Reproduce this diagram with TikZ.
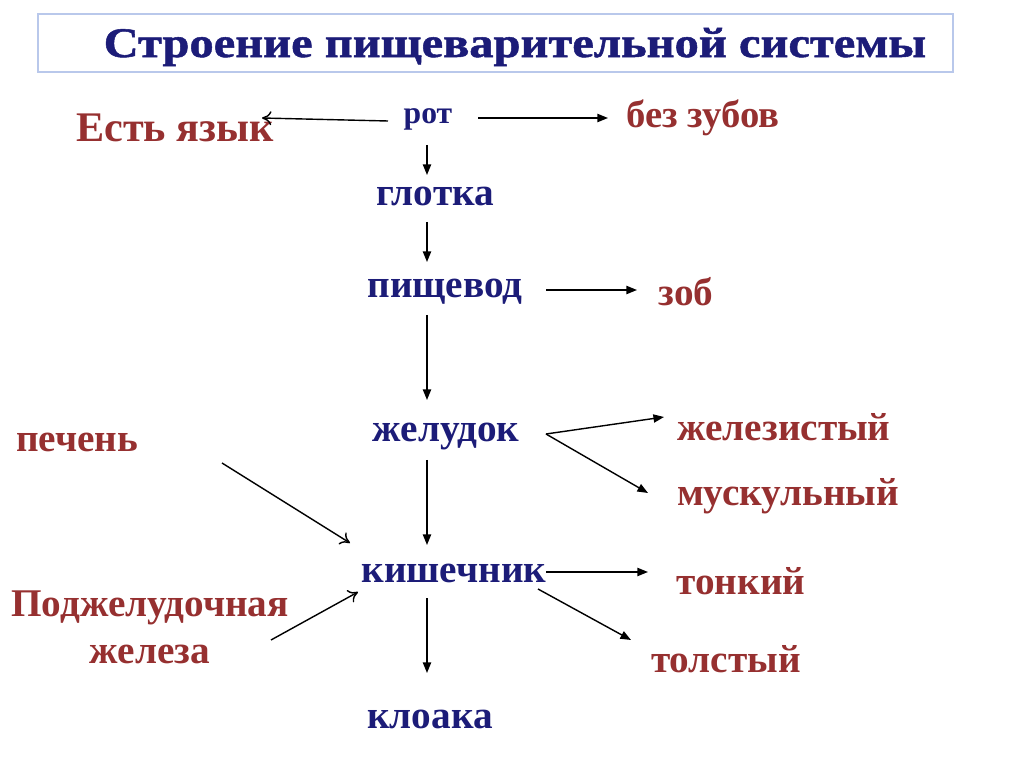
\documentclass[tikz,border=0pt]{standalone}
\usepackage{fontspec}
\setmainfont{Liberation Serif}
\newfontfamily\titlefont[FakeStretch=1.15,FakeBold=1.2]{Liberation Serif}
\definecolor{organ}{RGB}{28,28,120}
\definecolor{part}{RGB}{150,48,48}
\definecolor{frame}{RGB}{185,200,235}
\usetikzlibrary{arrows.meta}
\tikzset{
  organ/.style={text=organ,font=\fontsize{33.5}{40}\selectfont\bfseries,inner sep=1pt},
  part/.style={text=part,font=\fontsize{33.5}{40}\selectfont\bfseries,inner sep=1pt},
  solid/.style={-{Triangle[length=9pt,width=7pt]},line width=1.2pt},
  open/.style={-{To[length=8pt,width=12pt]},line width=1.2pt}
}
\begin{document}
\begin{tikzpicture}[x=0.03cm,y=-0.03cm]
  \useasboundingbox (0,0) rectangle (1024,767);
  % title
  \draw[frame,line width=1.5pt] (38,14) rectangle (953,72);
  \node[text=organ,font=\titlefont\fontsize{36}{40}\selectfont\bfseries] (title) at (515,47) {Строение пищеварительной системы};
  % top row
  \node[organ,font=\fontsize{27}{30}\selectfont\bfseries] (rot) at (428,119) {рот};
  \node[part,font=\fontsize{36}{40}\selectfont\bfseries] (yazyk) at (175,128) {Есть язык};
  \node[part,font=\fontsize{33}{40}\selectfont\bfseries] (zuby) at (703,118) {без зубов};
  % main line
  \node[organ] (glotka) at (435,196) {глотка};
  \node[organ] (pishchevod) at (445,292) {пищевод};
  \node[part] (zob) at (686,292) {зоб};
  \node[organ] (zheludok) at (446,436) {желудок};
  \node[part] (zhelez) at (784,427) {железистый};
  \node[part] (musk) at (788,496) {мускульный};
  \node[part] (pechen) at (77,442) {печень};
  \node[organ] (kishechnik) at (454,573) {кишечник};
  \node[part] (tonkiy) at (741,581) {тонкий};
  \node[part,align=center] (podzhel) at (150,627) {Поджелудочная\\железа};
  \node[part] (tolstyy) at (726,659) {толстый};
  \node[organ] (kloaka) at (430,719) {клоака};
  % arrows
  \draw[open] ([shift={(-40,2)}]rot.center) -- ([shift={(87,-10)}]yazyk.center);
  \draw[solid] ([shift={(50,-1)}]rot.center) -- ([shift={(-95,0)}]zuby.center);
  \draw[solid] ([shift={(-1,26)}]rot.center) -- ([shift={(-8,-21)}]glotka.center);
  \draw[solid] ([shift={(-8,26)}]glotka.center) -- ([shift={(-18,-30)}]pishchevod.center);
  \draw[solid] ([shift={(101,-2)}]pishchevod.center) -- ([shift={(-49,-2)}]zob.center);
  \draw[solid] ([shift={(-18,23)}]pishchevod.center) -- ([shift={(-19,-36)}]zheludok.center);
  \draw[solid] ([shift={(100,-2)}]zheludok.center) -- ([shift={(-120,-10)}]zhelez.center);
  \draw[solid] ([shift={(100,-2)}]zheludok.center) -- ([shift={(-140,-3)}]musk.center);
  \draw[solid] ([shift={(-19,24)}]zheludok.center) -- ([shift={(-27,-28)}]kishechnik.center);
  \draw[open] ([shift={(145,21)}]pechen.center) -- ([shift={(-104,-30)}]kishechnik.center);
  \draw[open] ([shift={(121,13)}]podzhel.center) -- ([shift={(-96,19)}]kishechnik.center);
  \draw[solid] ([shift={(92,-1)}]kishechnik.center) -- ([shift={(-93,-9)}]tonkiy.center);
  \draw[solid] ([shift={(84,16)}]kishechnik.center) -- ([shift={(-95,-19)}]tolstyy.center);
  \draw[solid] ([shift={(-27,25)}]kishechnik.center) -- ([shift={(-3,-46)}]kloaka.center);
\end{tikzpicture}
\end{document}
